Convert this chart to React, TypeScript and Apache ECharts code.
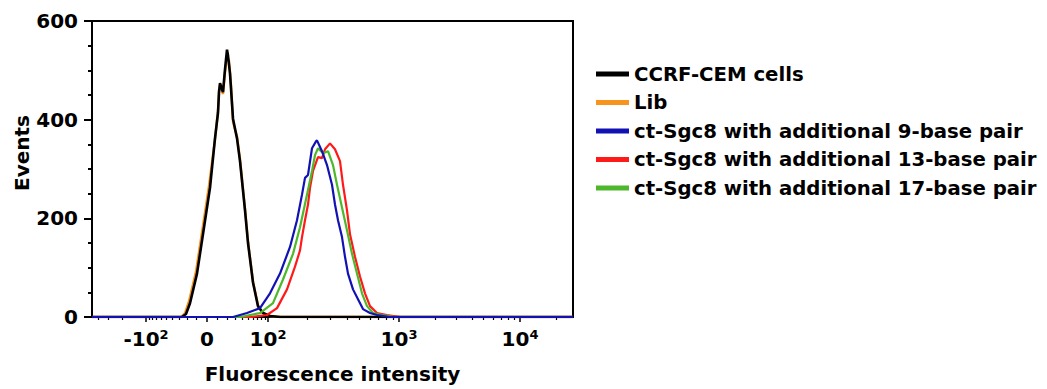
import React, { useEffect, useRef } from "react";
import * as echarts from "echarts";

const FONT = "DejaVu Sans";

// Legend order / series names
const seriesNames = [
  "CCRF-CEM cells",
  "Lib",
  "ct-Sgc8 with additional 9-base pair",
  "ct-Sgc8 with additional 13-base pair",
  "ct-Sgc8 with additional 17-base pair",
];
const seriesColors = ["#000000", "#F7941D", "#1212B4", "#FF1A1A", "#4DB82B"];
const seriesWidths = [2.6, 2.4, 2.2, 2.2, 2.2];

// Biexponential display-scale parameters (display channel units)
const X_MIN = -115;
const X_MAX = 366;
const LIN_LIMIT = 100;
const LIN_WIDTH = 61;
const LIN_SHAPE = 30;
const POS_DECADE_WIDTHS = [131, 121];
const NEG_DECADE_WIDTH = 80;

// Axis ticks (fluorescence values)
const majorTickValues = [-100, 0, 100, 1000, 10000];
const majorTickLabels = [
  ["-10", "2"],
  ["0", ""],
  ["10", "2"],
  ["10", "3"],
  ["10", "4"],
];
const minorTickValues = [
  -400, -300, -200, -90, -80, -70, -60, -50, -40, -30, -20, -10, 10, 20, 30, 40,
  50, 60, 70, 80, 90, 200, 300, 400, 500, 600, 700, 800, 900, 2000, 3000, 4000,
  5000, 6000, 7000, 8000, 9000, 20000,
];

// Histograms: [display channel, events]
const ccrfCem = [
  [-115, 0], [-25, 0], [-21, 6], [-17, 28], [-10, 88], [-4, 168], [3, 262],
  [8, 362], [11, 414], [12, 455], [13, 474], [15, 462], [16, 456], [18, 502],
  [20, 542], [21, 530], [23, 494], [26, 402], [30, 362], [33, 316], [38, 216],
  [41, 150], [46, 70], [51, 22], [56, 8], [63, 2], [73, 0], [366, 0],
];
const lib = [
  [-115, 0], [-26, 0], [-22, 8], [-18, 32], [-11, 92], [-5, 172], [2, 266],
  [8, 360], [11, 418], [12, 460], [13, 470], [15, 458], [16, 452], [18, 496],
  [20, 528], [22, 520], [24, 470], [26, 396], [28, 380], [30, 366], [33, 320],
  [38, 220], [41, 154], [46, 72], [51, 24], [56, 8], [63, 2], [73, 0], [366, 0],
];
const bp9 = [
  [-115, 0], [26, 0], [40, 8], [53, 18], [63, 48], [73, 88], [83, 142],
  [90, 196], [95, 248], [98, 282], [101, 288], [105, 342], [109, 356],
  [110, 358], [115, 336], [120, 308], [125, 268], [128, 228], [131, 196],
  [135, 162], [138, 122], [141, 88], [146, 56], [151, 36], [156, 16], [163, 8],
  [170, 4], [183, 0], [366, 0],
];
const bp13 = [
  [-115, 0], [43, 0], [60, 4], [70, 18], [80, 56], [88, 102], [93, 135],
  [95, 162], [98, 196], [101, 228], [103, 262], [106, 296], [111, 324],
  [115, 322], [118, 340], [123, 352], [128, 340], [133, 316], [136, 268],
  [140, 216], [143, 168], [148, 122], [153, 82], [158, 48], [163, 22], [170, 8],
  [180, 4], [193, 0], [366, 0],
];
const bp17 = [
  [-115, 0], [33, 0], [53, 8], [66, 28], [76, 76], [86, 128], [93, 182],
  [100, 248], [105, 296], [108, 328], [111, 342], [116, 332], [121, 336],
  [126, 308], [130, 268], [135, 222], [140, 176], [145, 128], [150, 88],
  [155, 48], [160, 22], [166, 8], [175, 4], [188, 0], [366, 0],
];

const yTicks = { min: 0, max: 600, interval: 200 };

function toDisplay(v: number): number {
  const a = Math.abs(v);
  const s = v < 0 ? -1 : 1;
  if (a <= LIN_LIMIT) {
    return (s * LIN_WIDTH * Math.asinh(a / LIN_SHAPE)) / Math.asinh(LIN_LIMIT / LIN_SHAPE);
  }
  const dec = Math.log10(a / LIN_LIMIT);
  if (v < 0) return -(LIN_WIDTH + dec * NEG_DECADE_WIDTH);
  let d = LIN_WIDTH;
  let rem = dec;
  let i = 0;
  while (rem > 0) {
    const w = POS_DECADE_WIDTHS[Math.min(i, POS_DECADE_WIDTHS.length - 1)];
    const step = Math.min(rem, 1);
    d += step * w;
    rem -= step;
    i++;
  }
  return d;
}

export default function App() {
  const ref = useRef<HTMLDivElement>(null);

  useEffect(() => {
    if (!ref.current) return;
    const chart = echarts.init(ref.current, undefined, { renderer: "svg" });

    const majorPos = majorTickValues.map(toDisplay);
    const minorPos = minorTickValues
      .map(toDisplay)
      .filter((d) => d > X_MIN && d < X_MAX);

    const textBase = {
      fontFamily: FONT,
      fontWeight: "bold" as const,
      color: "#000",
    };

    const dataSets = [ccrfCem, lib, bp9, bp13, bp17];
    // draw order: Lib under CCRF-CEM; red, green, blue
    const drawOrder = [1, 0, 3, 4, 2];

    const option: any = {
      animation: false,
      grid: {
        left: 92,
        top: 21,
        width: 481,
        height: 300,
        show: true,
        borderColor: "#000",
        borderWidth: 2,
        backgroundColor: "transparent",
      },
      legend: {
        orient: "vertical",
        left: 591,
        top: 59,
        itemWidth: 33,
        itemHeight: 5,
        itemGap: 8.5,
        icon: "rect",
        data: seriesNames,
        selectedMode: false,
        textStyle: { ...textBase, fontSize: 19.7 },
      },
      xAxis: [
        {
          type: "value",
          position: "bottom",
          min: X_MIN,
          max: X_MAX,
          name: "Fluorescence intensity",
          nameLocation: "middle",
          nameGap: 47,
          nameTextStyle: { ...textBase, fontSize: 20 },
          axisLine: { show: true, onZero: false, lineStyle: { color: "#000", width: 2 } },
          axisTick: {
            show: true,
            customValues: majorPos,
            length: 5,
            lineStyle: { color: "#000", width: 1.5 },
          },
          axisLabel: {
            show: true,
            customValues: majorPos,
            margin: 11,
            ...textBase,
            fontSize: 20,
            formatter: (val: number) => {
              let idx = 0;
              let best = Infinity;
              majorPos.forEach((p, i) => {
                const dd = Math.abs(p - val);
                if (dd < best) {
                  best = dd;
                  idx = i;
                }
              });
              const [b, e] = majorTickLabels[idx];
              return e ? `{b|${b}}{e|${e}}` : `{b|${b}}`;
            },
            rich: {
              b: { ...textBase, fontSize: 20, lineHeight: 22 },
              e: { ...textBase, fontSize: 13, verticalAlign: "top", lineHeight: 14 },
            },
          },
          splitLine: { show: false },
        },
        {
          type: "value",
          position: "bottom",
          offset: 0,
          min: X_MIN,
          max: X_MAX,
          axisLine: { show: false, onZero: false },
          axisTick: {
            show: true,
            customValues: minorPos,
            length: 3,
            lineStyle: { color: "#000", width: 1.2 },
          },
          axisLabel: { show: false },
          splitLine: { show: false },
        },
      ],
      yAxis: {
        type: "value",
        min: yTicks.min,
        max: yTicks.max,
        interval: yTicks.interval,
        axisLine: { show: true, onZero: false, lineStyle: { color: "#000", width: 2 } },
        axisTick: { show: true, length: 8, lineStyle: { color: "#000", width: 2 } },
        minorTick: {
          show: true,
          splitNumber: 4,
          length: 4,
          lineStyle: { color: "#000", width: 2 },
        },
        axisLabel: { ...textBase, fontSize: 20, margin: 14 },
        splitLine: { show: false },
        minorSplitLine: { show: false },
      },
      graphic: [
        {
          type: "text",
          x: 22,
          y: 153,
          rotation: Math.PI / 2,
          style: {
            text: "Events",
            font: `bold 20px "${FONT}"`,
            fill: "#000",
            align: "center",
            verticalAlign: "middle",
          },
        },
      ],
      series: drawOrder.map((i) => ({
        name: seriesNames[i],
        type: "line",
        xAxisIndex: 0,
        data: dataSets[i],
        showSymbol: false,
        symbol: "none",
        smooth: false,
        color: seriesColors[i],
        lineStyle: { color: seriesColors[i], width: seriesWidths[i] },
        emphasis: { disabled: true },
        z: 3,
      })),
    };

    chart.setOption(option);
    return () => chart.dispose();
  }, []);

  return (
    <div
      ref={ref}
      style={{ position: "absolute", left: 0, top: 0, width: 1047, height: 389 }}
    />
  );
}
